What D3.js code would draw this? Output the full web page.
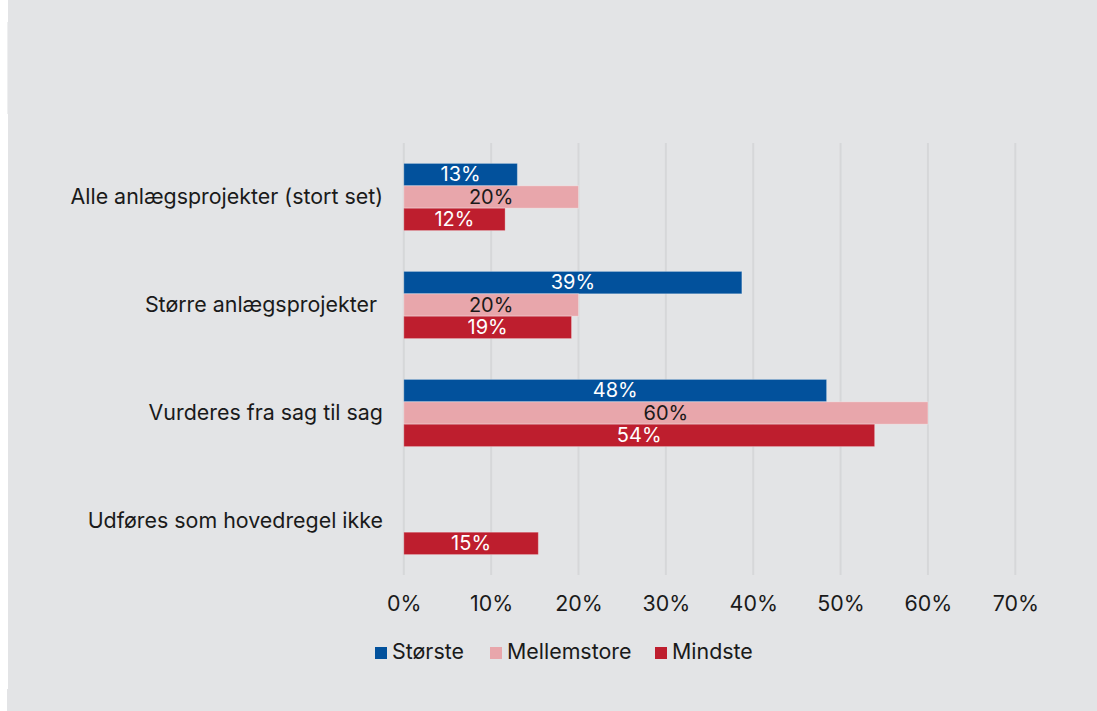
<!DOCTYPE html>
<html>
<head>
<meta charset="utf-8">
<script src="https://cdn.jsdelivr.net/npm/d3@7"></script>
<style>
  html, body { margin: 0; padding: 0; background: #ffffff; }
  svg { display: block; }
  text { font-family: Inter, "Noto Sans", sans-serif; }
</style>
</head>
<body>
<svg id="chart" width="1097" height="711"></svg>
<script>
// Categories (top to bottom) and series
const categories = [
  "Alle anlægsprojekter (stort set)",
  "Større anlægsprojekter ",
  "Vurderes fra sag til sag",
  "Udføres som hovedregel ikke"
];
const seriesNames = ["Største", "Mellemstore", "Mindste"];
const seriesColors = ["#02519c", "#e8a6ab", "#be1e2e"];
const labelColors = ["#ffffff", "#1a1a1a", "#ffffff"];

// Shares per category, one array per series (null = no bar)
const storste     = [0.13, 0.387, 0.484, null];
const mellemstore = [0.20, 0.20, 0.60, null];
const mindste     = [0.116, 0.192, 0.539, 0.154];

const tickValues = [0, 0.1, 0.2, 0.3, 0.4, 0.5, 0.6, 0.7];

const seriesValues = [storste, mellemstore, mindste];
const W = 1097, H = 711;
const FS = 21.4;       // category, axis and legend text
const FS_BAR = 20;     // value labels inside bars
const svg = d3.select("#chart");

// Panel background
svg.append("rect").attr("x", 8).attr("y", 0).attr("width", W - 8).attr("height", H).attr("fill", "#e3e4e6");
svg.append("rect").attr("x", 7).attr("y", 22).attr("width", 1).attr("height", 92).attr("fill", "#eeeff0");
svg.append("rect").attr("x", 7).attr("y", 689).attr("width", 1).attr("height", 22).attr("fill", "#e3e4e6");

const x = d3.scaleLinear().domain([0, 0.7]).range([403.8, 1015.3]);
const y0 = d3.scaleBand().domain(categories).range([143, 575]).paddingInner(0.378).paddingOuter(0.189);
const y1 = d3.scaleBand().domain(seriesNames).range([0, y0.bandwidth()]);

// Vertical gridlines
svg.append("g")
  .selectAll("line")
  .data(tickValues)
  .join("line")
  .attr("x1", d => x(d)).attr("x2", d => x(d))
  .attr("y1", 143).attr("y2", 575)
  .attr("stroke", "#d6d7d9").attr("stroke-width", 2);

// Bars
const rows = [];
categories.forEach((c, i) => {
  seriesNames.forEach((s, j) => {
    const v = seriesValues[j][i];
    if (v != null) rows.push({ c, s, j, v });
  });
});

const g = svg.append("g");
g.selectAll("rect")
  .data(rows)
  .join("rect")
  .attr("x", x(0))
  .attr("y", d => y0(d.c) + y1(d.s))
  .attr("width", d => x(d.v) - x(0))
  .attr("height", y1.bandwidth())
  .attr("fill", d => seriesColors[d.j])
  .attr("stroke", "rgba(255,255,255,0.3)")
  .attr("stroke-width", 1);

const pct = d3.format(".0%");
g.selectAll("text")
  .data(rows)
  .join("text")
  .attr("x", d => (x(0) + x(d.v)) / 2)
  .attr("y", d => y0(d.c) + y1(d.s) + y1.bandwidth() / 2)
  .attr("dy", "0.34em")
  .attr("text-anchor", "middle")
  .attr("font-size", FS_BAR)
  .attr("fill", d => labelColors[d.j])
  .text(d => pct(d.v));

// Category labels
svg.append("g")
  .selectAll("text")
  .data(categories)
  .join("text")
  .attr("x", 383)
  .attr("y", d => y0(d) + y0.bandwidth() / 2)
  .attr("dy", "0.34em")
  .attr("text-anchor", "end")
  .attr("xml:space", "preserve")
  .style("white-space", "pre")
  .attr("font-size", FS)
  .attr("fill", "#1a1a1a")
  .text(d => d);

// X axis tick labels
const axis = svg.append("g")
  .attr("transform", "translate(0,610.7)")
  .call(d3.axisBottom(x).tickValues(tickValues).tickFormat(pct).tickSize(0).tickPadding(0));
axis.select(".domain").remove();
axis.selectAll("text")
  .attr("dy", 0)
  .attr("font-family", "Inter, 'Noto Sans', sans-serif")
  .attr("font-size", FS)
  .attr("fill", "#1a1a1a");

// Legend
const legendX = [375, 490, 655];
const legend = svg.append("g")
  .selectAll("g")
  .data(seriesNames)
  .join("g")
  .attr("transform", (d, i) => `translate(${legendX[i]},647)`);
legend.append("rect")
  .attr("width", 12).attr("height", 12)
  .attr("fill", (d, i) => seriesColors[i]);
legend.append("text")
  .attr("x", 17).attr("y", 11.5)
  .attr("font-size", FS)
  .attr("fill", "#1a1a1a")
  .text(d => d);
</script>
</body>
</html>
